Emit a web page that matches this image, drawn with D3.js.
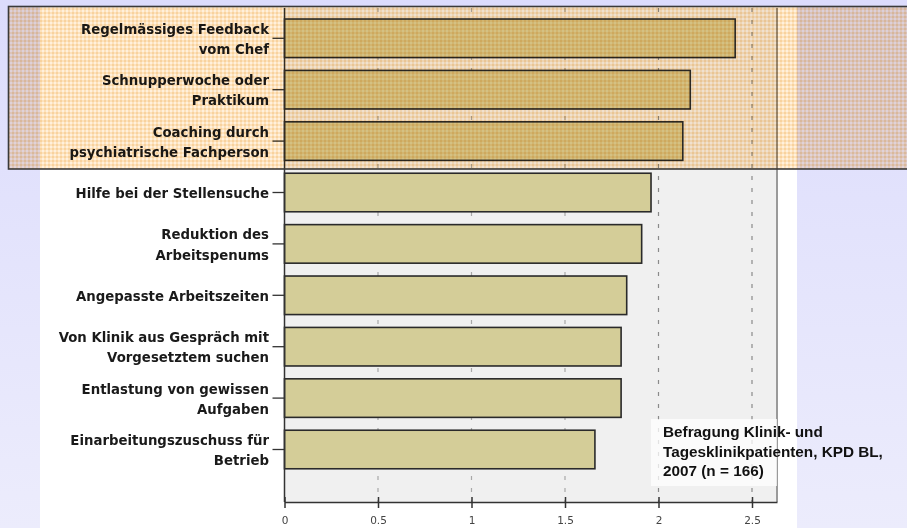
<!DOCTYPE html>
<html>
<head>
<meta charset="utf-8">
<script src="https://cdn.jsdelivr.net/npm/d3@7"></script>
<style>
  body { margin: 0; padding: 0; overflow: hidden; }
  svg { display: block; }
</style>
</head>
<body>
<svg id="chart" width="907" height="528"></svg>
<script>
// categories, each one split into its printed lines
var categories = [
    ["Regelmässiges Feedback", "vom Chef"],
    ["Schnupperwoche oder", "Praktikum"],
    ["Coaching durch", "psychiatrische Fachperson"],
    ["Hilfe bei der Stellensuche"],
    ["Reduktion des", "Arbeitspenums"],
    ["Angepasste Arbeitszeiten"],
    ["Von Klinik aus Gespräch mit", "Vorgesetztem suchen"],
    ["Entlastung von gewissen", "Aufgaben"],
    ["Einarbeitungszuschuss für", "Betrieb"]
]
var values = [2.41, 2.17, 2.13, 1.96, 1.91, 1.83, 1.80, 1.80, 1.66]
var tickValues = [0, 0.5, 1, 1.5, 2, 2.5]
var noteLines = ["Befragung Klinik- und", "Tagesklinikpatienten, KPD BL,", "2007 (n = 166)"]

var svg = d3.select("#chart")
var W = 907, H = 528

var plotLeft = 284.5, plotRight = 777, plotTop = 8, plotBottom = 502

var x = d3.scaleLinear()
    .domain([0, (plotRight - plotLeft) / 187])
    .range([plotLeft, plotRight])

var keys = categories.map(function (d) { return d.join(" ") })
var y = d3.scaleBand()
    .domain(keys)
    .range([12.6, 475.2])
    .paddingInner(0.25)
    .paddingOuter(0.125)

var defs = svg.append("defs")

// slide background
var bg = defs.append("linearGradient").attr("id", "slidebg")
    .attr("x1", 0).attr("y1", 0).attr("x2", 0).attr("y2", 1)
bg.append("stop").attr("offset", "0%").attr("stop-color", "#dcdcfc")
bg.append("stop").attr("offset", "100%").attr("stop-color", "#ececfc")

// gingham highlight texture (multiplied over the chart)
var pat = defs.append("pattern").attr("id", "gingham")
    .attr("width", 4).attr("height", 4)
    .attr("patternUnits", "userSpaceOnUse")
pat.append("rect").attr("width", 4).attr("height", 4).attr("fill", "#fff0dc")
pat.append("rect").attr("width", 4).attr("height", 2).attr("fill", "#fde2bc")
pat.append("rect").attr("width", 2).attr("height", 4).attr("fill", "#fde2bc")
pat.append("rect").attr("width", 2).attr("height", 2).attr("fill", "#f8d29e")

svg.append("rect").attr("width", W).attr("height", H).attr("fill", "url(#slidebg)")
svg.append("rect").attr("x", 40).attr("y", 6).attr("width", 757).attr("height", H - 6).attr("fill", "#ffffff")

// plot area
svg.append("rect")
    .attr("x", plotLeft).attr("y", plotTop)
    .attr("width", plotRight - plotLeft).attr("height", plotBottom - plotTop)
    .attr("fill", "#f0f0f0")

svg.append("line")
    .attr("x1", plotRight).attr("x2", plotRight)
    .attr("y1", plotTop).attr("y2", plotBottom)
    .attr("stroke", "#9a9a9a").attr("stroke-width", 2)

// dashed grid
svg.append("g").selectAll("line")
    .data(tickValues.filter(function (d) { return d > 0 }))
    .enter().append("line")
    .attr("x1", function (d) { return x(d) })
    .attr("x2", function (d) { return x(d) })
    .attr("y1", plotTop)
    .attr("y2", plotBottom)
    .attr("stroke", function (d) { return d >= 2 ? "#8a8a8a" : "#a8a8a8" })
    .attr("stroke-width", 1.2)
    .attr("stroke-dasharray", "4,8")

// bars
svg.append("g").selectAll("rect")
    .data(values)
    .enter().append("rect")
    .attr("x", x(0))
    .attr("y", function (d, i) { return y(keys[i]) })
    .attr("width", function (d) { return x(d) - x(0) })
    .attr("height", y.bandwidth())
    .attr("fill", "#d4cd98")
    .attr("stroke", "#2a2a2a")
    .attr("stroke-width", 1.6)

// x axis
var xAxis = svg.append("g")
    .attr("transform", "translate(0," + plotBottom + ")")
    .call(d3.axisBottom(x).tickValues(tickValues).tickSize(6).tickSizeOuter(0).tickFormat(d3.format("")))
xAxis.select(".domain").attr("stroke", "#333").attr("stroke-width", 1.5)
xAxis.selectAll(".tick line").attr("y1", -5).attr("y2", 6).attr("stroke", "#333").attr("stroke-width", 1.5)
xAxis.selectAll(".tick text")
    .attr("y", 15)
    .attr("dy", "0.71em")
    .style("font-family", "'DejaVu Sans', sans-serif")
    .style("font-size", "10.5px")
    .attr("fill", "#444")

// y axis
var yAxis = svg.append("g")
    .attr("transform", "translate(" + plotLeft + ",0)")
    .call(d3.axisLeft(y).tickSize(12).tickSizeOuter(0).tickFormat(""))
yAxis.select(".domain").attr("stroke", "#333").attr("stroke-width", 1.5)
    .attr("d", "M0," + plotTop + "V" + plotBottom)
yAxis.selectAll(".tick line").attr("stroke", "#333").attr("stroke-width", 1.3)

var labels = svg.append("g")
    .style("font-family", "'DejaVu Sans', sans-serif")
    .style("font-weight", "bold")
    .style("font-size", "13.3px")
    .attr("fill", "#1a1a1a")
    .attr("text-anchor", "end")

categories.forEach(function (lines, i) {
    var cy = y(keys[i]) + y.bandwidth() / 2
    var t = labels.append("text").attr("x", 269)
    if (lines.length == 1) {
        t.append("tspan").attr("x", 269).attr("y", cy + 5.3).text(lines[0])
    }
    else {
        t.append("tspan").attr("x", 269).attr("y", cy - 4.6).text(lines[0])
        t.append("tspan").attr("x", 269).attr("y", cy + 15.6).text(lines[1])
    }
})

// source note
svg.append("rect")
    .attr("x", 651).attr("y", 419).attr("width", 126).attr("height", 67)
    .attr("fill", "rgba(255,255,255,0.75)")

svg.append("g").selectAll("text")
    .data(noteLines)
    .enter().append("text")
    .attr("x", 663)
    .attr("y", function (d, i) { return 437 + i * 19.5 })
    .style("font-family", "'Liberation Sans', Arial, sans-serif")
    .style("font-weight", "bold")
    .style("font-size", "15.3px")
    .attr("fill", "#111")
    .text(function (d) { return d })

// highlight box over the top three
svg.append("rect")
    .attr("x", 8.5).attr("y", 6.5)
    .attr("width", 910).attr("height", 162.5)
    .attr("fill", "url(#gingham)")
    .style("mix-blend-mode", "multiply")

svg.append("rect")
    .attr("x", 8.5).attr("y", 6.5)
    .attr("width", 910).attr("height", 162.5)
    .attr("fill", "none")
    .attr("stroke", "#3a3a3a")
    .attr("stroke-width", 1.6)
</script>
</body>
</html>
